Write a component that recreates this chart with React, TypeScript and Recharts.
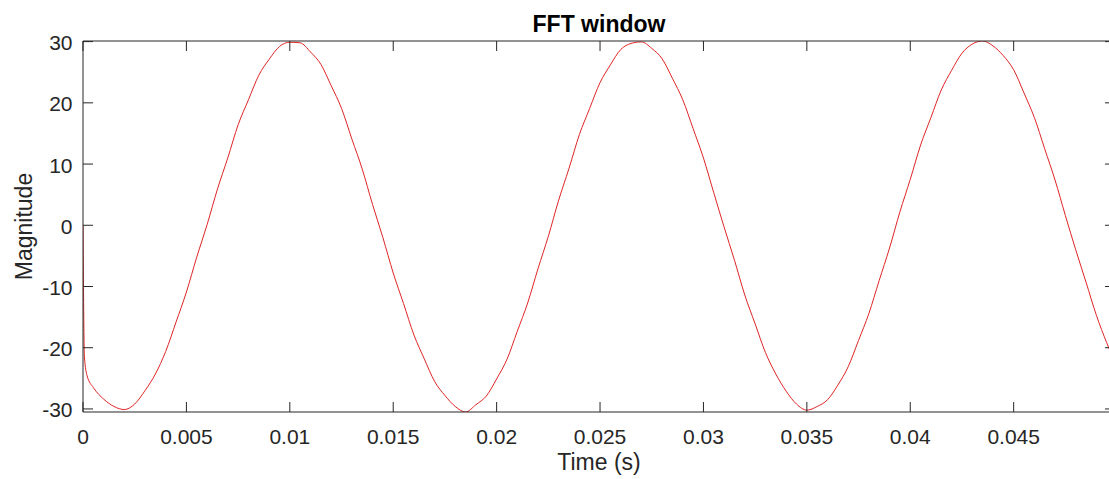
import { Line, LineChart, XAxis, YAxis } from 'recharts';

// sample times (s) and magnitude
const TIME_S = [
  0, 0.00007, 0.0002, 0.0005, 0.001, 0.0015, 0.002, 0.0025, 0.003, 0.0035,
  0.004, 0.0045, 0.005, 0.0055, 0.006, 0.0065, 0.007, 0.0075, 0.008, 0.0085,
  0.009, 0.0095, 0.01, 0.0105, 0.011, 0.0115, 0.012, 0.0125, 0.013, 0.0135,
  0.014, 0.0145, 0.015, 0.0155, 0.016, 0.0165, 0.017, 0.0175, 0.018, 0.0185,
  0.019, 0.0195, 0.02, 0.0205, 0.021, 0.0215, 0.022, 0.0225, 0.023, 0.0235,
  0.024, 0.0245, 0.025, 0.0255, 0.026, 0.0265, 0.027, 0.0275, 0.028, 0.0285,
  0.029, 0.0295, 0.03, 0.0305, 0.031, 0.0315, 0.032, 0.0325, 0.033, 0.0335,
  0.034, 0.0345, 0.035, 0.0355, 0.036, 0.0365, 0.037, 0.0375, 0.038, 0.0385,
  0.039, 0.0395, 0.04, 0.0405, 0.041, 0.0415, 0.042, 0.0425, 0.043, 0.0435,
  0.044, 0.0445, 0.045, 0.0455, 0.046, 0.0465, 0.047, 0.0475, 0.048, 0.0485,
  0.049, 0.0495, 0.0499,
];

const MAGNITUDE = [
  0, -21.5, -24.6, -26.5, -28.4, -29.6, -30.1, -29.2, -27.0, -24.3,
  -20.6, -15.8, -10.9, -5.2, 0.1, 5.9, 11.0, 16.4, 20.5, 24.5,
  27.1, 29.2, 29.9, 29.8, 28.3, 26.3, 22.8, 19.1, 14.1, 9.2,
  3.4, -2.0, -7.8, -12.8, -17.9, -21.8, -25.5, -27.8, -29.6, -30.5,
  -29.3, -27.9, -25.1, -21.9, -17.3, -12.7, -7.1, -1.8, 4.1, 9.3,
  14.8, 19.1, 23.3, 26.2, 28.7, 29.7, 29.95, 28.9, 27.2, 24.0,
  20.5, 15.8, 11.0, 5.3, -0.3, -5.7, -11.4, -16.1, -20.8, -24.3,
  -27.1, -29.2, -30.2, -29.6, -28.5, -26.1, -23.1, -18.8, -14.4, -9.0,
  -3.7, 2.2, 7.5, 13.1, 17.6, 22.1, 25.3, 28.1, 29.6, 30.1,
  29.3, 27.7, 25.4, 21.6, 17.6, 12.5, 7.4, 1.6, -4.0, -9.3,
  -14.7, -19.2, -22.4,
];

const X_TICKS = [0, 0.005, 0.01, 0.015, 0.02, 0.025, 0.03, 0.035, 0.04, 0.045];
const Y_TICKS = [-30, -20, -10, 0, 10, 20, 30];

const X_DOMAIN: [number, number] = [0, 0.0499];
const Y_DOMAIN: [number, number] = [-30.5, 30.1];

const FONT = '"Liberation Sans", Arial, Helvetica, sans-serif';
const AXIS = '#262626';
const TICK_LEN = 10;

const data = TIME_S.map((t, i) => ({ t, m: MAGNITUDE[i] }));

function BottomTick({ x, y, payload }: any) {
  return (
    <g>
      <line x1={x} y1={y} x2={x} y2={y - TICK_LEN} stroke={AXIS} />
      <text x={x} y={y + 31.5} textAnchor="middle" fill={AXIS} fontSize={21} fontFamily={FONT}>
        {String(payload.value)}
      </text>
    </g>
  );
}

function LeftTick({ x, y, payload }: any) {
  return (
    <g>
      <line x1={x} y1={y} x2={x + TICK_LEN} y2={y} stroke={AXIS} />
      <text x={x - 10.5} y={y + 8.5} textAnchor="end" fill={AXIS} fontSize={21} fontFamily={FONT}>
        {String(payload.value)}
      </text>
    </g>
  );
}

function TopTick({ x, y }: any) {
  return <line x1={x} y1={y} x2={x} y2={y + TICK_LEN} stroke={AXIS} />;
}

function RightTick({ x, y }: any) {
  return <line x1={x} y1={y} x2={x - TICK_LEN} y2={y} stroke={AXIS} />;
}

function TitleLabel({ viewBox }: any) {
  const { x, y, width, height } = viewBox;
  return (
    <text
      x={x + width / 2}
      y={y + height - 9.5}
      textAnchor="middle"
      fill="#000"
      fontSize={23}
      fontWeight="bold"
      fontFamily={FONT}
    >
      FFT window
    </text>
  );
}

function XLabel({ viewBox }: any) {
  const { x, y, width } = viewBox;
  return (
    <text x={x + width / 2} y={y + 57.5} textAnchor="middle" fill={AXIS} fontSize={23} fontFamily={FONT}>
      Time (s)
    </text>
  );
}

function YLabel({ viewBox }: any) {
  const { x, y, height } = viewBox;
  const cx = x + 23.5;
  const cy = y + height / 2;
  return (
    <text
      x={cx}
      y={cy}
      transform={`rotate(-90, ${cx}, ${cy})`}
      textAnchor="middle"
      dominantBaseline="central"
      fill={AXIS}
      fontSize={23}
      fontFamily={FONT}
    >
      Magnitude
    </text>
  );
}

export default function App() {
  return (
    <div style={{ width: 1109, height: 479, overflow: 'hidden', background: '#fff' }}>
      <style>{`body { margin: 0; }`}</style>
      <LineChart width={1116} height={479} data={data} margin={{ top: 40, right: 0, bottom: 0, left: 0 }}>
        <XAxis
          dataKey="t"
          type="number"
          domain={X_DOMAIN}
          ticks={X_TICKS}
          allowDataOverflow
          height={67}
          tickSize={0}
          tickMargin={0}
          tickLine={false}
          axisLine={{ stroke: AXIS }}
          tick={<BottomTick />}
          interval={0}
          label={{ content: <XLabel /> }}
        />
        <XAxis
          xAxisId="top"
          orientation="top"
          dataKey="t"
          type="number"
          domain={X_DOMAIN}
          ticks={X_TICKS}
          allowDataOverflow
          height={1}
          tickSize={0}
          tickMargin={0}
          tickLine={false}
          axisLine={{ stroke: AXIS }}
          tick={<TopTick />}
          interval={0}
          label={{ content: <TitleLabel /> }}
        />
        <YAxis
          type="number"
          domain={Y_DOMAIN}
          ticks={Y_TICKS}
          allowDataOverflow
          width={83}
          tickSize={0}
          tickMargin={0}
          tickLine={false}
          axisLine={{ stroke: AXIS }}
          tick={<LeftTick />}
          interval={0}
          label={{ content: <YLabel /> }}
        />
        <YAxis
          yAxisId="right"
          orientation="right"
          type="number"
          domain={Y_DOMAIN}
          ticks={Y_TICKS}
          allowDataOverflow
          width={1}
          tickSize={0}
          tickMargin={0}
          tickLine={false}
          axisLine={{ stroke: AXIS }}
          tick={<RightTick />}
          interval={0}
        />
        <Line
          dataKey="m"
          type="monotone"
          stroke="#e02424"
          strokeWidth={1}
          dot={false}
          activeDot={false}
          isAnimationActive={false}
        />
      </LineChart>
    </div>
  );
}
